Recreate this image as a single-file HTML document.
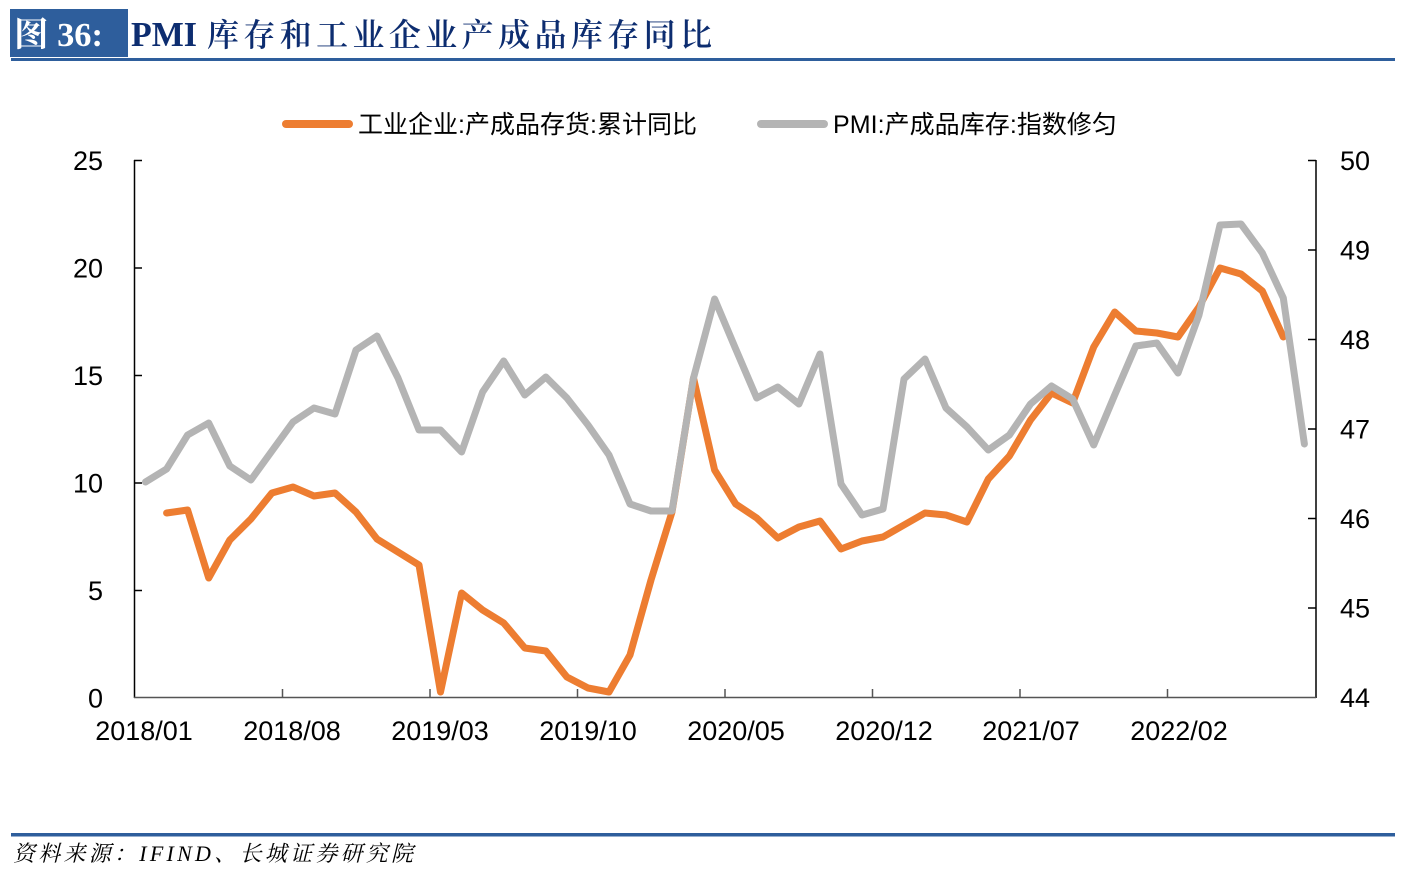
<!DOCTYPE html>
<html>
<head>
<meta charset="utf-8">
<style>
html,body{margin:0;padding:0;background:#fff;}
svg{display:block;}
</style>
</head>
<body>
<svg width="1410" height="878" viewBox="0 0 1410 878" xmlns="http://www.w3.org/2000/svg">
<rect x="0" y="0" width="1410" height="878" fill="#fff"/>
<!-- Title -->
<rect x="10" y="9" width="118" height="48" fill="#2e5e9c"/>
<text x="14" y="46" font-family="'Liberation Serif','Noto Serif CJK SC',serif" font-size="34" font-weight="bold" fill="#fff" textLength="89" lengthAdjust="spacingAndGlyphs">图 36:</text>
<text x="131" y="46" font-family="'Liberation Serif',serif" font-size="35" font-weight="bold" fill="#0d2d70" textLength="66" lengthAdjust="spacingAndGlyphs">PMI</text>
<text x="207" y="46" font-family="'Noto Serif CJK SC','Liberation Serif',serif" font-size="32" font-weight="600" fill="#0d2d70" textLength="505" lengthAdjust="spacing">库存和工业企业产成品库存同比</text>
<rect x="11" y="58" width="1384" height="3" fill="#2e5e9c"/>

<!-- Legend -->
<line x1="286" y1="124" x2="349" y2="124" stroke="#ed7d31" stroke-width="8" stroke-linecap="round"/>
<text x="358" y="133" font-family="'Liberation Sans','Noto Sans CJK SC',sans-serif" font-size="25" fill="#000" textLength="339" lengthAdjust="spacing">工业企业:产成品存货:累计同比</text>
<line x1="761" y1="124" x2="824" y2="124" stroke="#b4b4b4" stroke-width="8" stroke-linecap="round"/>
<text x="833" y="133" font-family="'Liberation Sans','Noto Sans CJK SC',sans-serif" font-size="25" fill="#000" textLength="284" lengthAdjust="spacing">PMI:产成品库存:指数修匀</text>

<!-- Axes -->
<g stroke="#000" stroke-width="1.5" fill="none">
<line x1="134.5" y1="160" x2="134.5" y2="698"/>
<line x1="1316" y1="160" x2="1316" y2="698"/>
<line x1="134" y1="160.5" x2="142" y2="160.5"/>
<line x1="134" y1="268" x2="142" y2="268"/>
<line x1="134" y1="375.5" x2="142" y2="375.5"/>
<line x1="134" y1="483" x2="142" y2="483"/>
<line x1="134" y1="590.5" x2="142" y2="590.5"/>
<line x1="1308" y1="160.5" x2="1316" y2="160.5"/>
<line x1="1308" y1="250" x2="1316" y2="250"/>
<line x1="1308" y1="339.5" x2="1316" y2="339.5"/>
<line x1="1308" y1="429" x2="1316" y2="429"/>
<line x1="1308" y1="518.5" x2="1316" y2="518.5"/>
<line x1="1308" y1="608" x2="1316" y2="608"/>
</g>
<g stroke="#555" stroke-width="1.5" fill="none">
<line x1="134" y1="697.5" x2="1316" y2="697.5"/>
<line x1="282.5" y1="689" x2="282.5" y2="698"/>
<line x1="430" y1="689" x2="430" y2="698"/>
<line x1="577.5" y1="689" x2="577.5" y2="698"/>
<line x1="725" y1="689" x2="725" y2="698"/>
<line x1="872.5" y1="689" x2="872.5" y2="698"/>
<line x1="1020" y1="689" x2="1020" y2="698"/>
<line x1="1167.5" y1="689" x2="1167.5" y2="698"/>
</g>

<!-- Left labels -->
<g font-family="'Liberation Sans',sans-serif" font-size="27" fill="#000" text-anchor="end">
<text x="103" y="170">25</text>
<text x="103" y="277.5">20</text>
<text x="103" y="385">15</text>
<text x="103" y="492.5">10</text>
<text x="103" y="600">5</text>
<text x="103" y="707.5">0</text>
</g>
<!-- Right labels -->
<g font-family="'Liberation Sans',sans-serif" font-size="27" fill="#000" text-anchor="start">
<text x="1340" y="170">50</text>
<text x="1340" y="259.5">49</text>
<text x="1340" y="349">48</text>
<text x="1340" y="438.5">47</text>
<text x="1340" y="528">46</text>
<text x="1340" y="617.5">45</text>
<text x="1340" y="707">44</text>
</g>
<!-- X labels -->
<g font-family="'Liberation Sans',sans-serif" font-size="27" fill="#000" text-anchor="middle">
<text x="144" y="740">2018/01</text>
<text x="292" y="740">2018/08</text>
<text x="440" y="740">2019/03</text>
<text x="588" y="740">2019/10</text>
<text x="736" y="740">2020/05</text>
<text x="884" y="740">2020/12</text>
<text x="1031" y="740">2021/07</text>
<text x="1179" y="740">2022/02</text>
</g>

<!-- Orange series -->
<polyline fill="none" stroke="#ed7d31" stroke-width="7" stroke-linejoin="round" stroke-linecap="round" points="
166.6,513 187.6,510 208.7,578 229.8,540 250.9,519 271.9,493 293,487 314,496 335,493 356,512
377,539 398,552 419,565 440.5,692 461.6,593 482.6,610 503.7,623 524.8,648 545.8,651 566.9,677
588,688 609,692 630,655 651,580 672,512 693.5,378 714.6,470 735.7,504 756.7,518 777.8,538
798.9,527 820,521 841,549 862,541 883,537 904,525 925,513 946,515 967,522 988.3,479
1009.4,456 1030.5,420 1051.5,393 1072.6,403 1093.7,347 1114.7,312 1135.8,331 1156.9,333 1178,337 1199,307
1220,268 1241,274 1262.3,291 1283.3,337"/>

<!-- Gray series -->
<polyline fill="none" stroke="#b4b4b4" stroke-width="7" stroke-linejoin="round" stroke-linecap="round" points="
145.5,482 166.6,469 187.6,435 208.7,423 229.8,466 250.9,480 271.9,451 293,422 314,408 335,414
356,350 377,336 398,378 419,430 440.5,430 461.6,452 482.6,392 503.7,361 524.8,395 545.8,377
566.9,398 588,425 609,455 630,504 651,511 672,511 693.5,378 714.6,299 735.7,349 756.7,398
777.8,387 798.9,404 820,354 841,484 862,515 883,509 904,379 925,359 946,408 967,427
988.3,450 1009.4,435 1030.5,404 1051.5,386 1072.6,399 1093.7,445 1114.7,395 1135.8,346 1156.9,343 1178,373
1199,315 1220,225 1241,224 1262.3,253 1283.3,298 1304.4,444"/>

<!-- Footer -->
<rect x="11" y="833" width="1384" height="3.5" fill="#2e5e9c"/>
<text x="13" y="861" font-family="'Liberation Serif','Noto Serif CJK SC',serif" font-size="22" font-style="italic" fill="#000" textLength="400" lengthAdjust="spacing">资料来源：IFIND、长城证券研究院</text>
</svg>
</body>
</html>
